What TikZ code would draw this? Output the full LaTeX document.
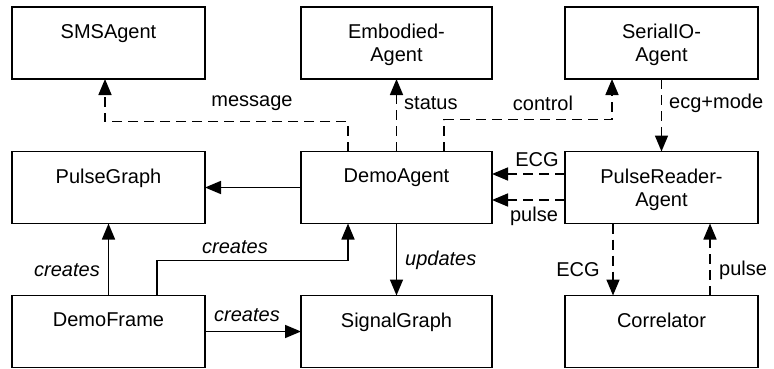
\documentclass[tikz,border=0pt]{standalone}
\usepackage{fontspec}
\setmainfont{Liberation Sans}
\usetikzlibrary{arrows.meta,calc}
\begin{document}
\begin{tikzpicture}[x=1pt,y=-1pt,
  box/.style={draw,line width=1.6pt,minimum width=193pt,minimum height=72pt,inner sep=0pt,outer sep=0pt},
  btext/.style={anchor=north,inner sep=0pt,align=center,font=\fontsize{20}{23}\selectfont},
  lbl/.style={inner sep=0pt,font=\fontsize{20}{23}\selectfont},
  ilbl/.style={inner sep=0pt,font=\fontsize{20}{23}\selectfont\itshape},
  conn/.style={line width=1.6pt,-{Triangle[length=16pt,width=13pt]}},
  dconn/.style={conn,dash pattern=on 10pt off 6pt}]
\useasboundingbox (0,0) rectangle (774,369);
% boxes
\node[box] (sms) at (108.5,43) {};
\node[box,minimum width=191pt] (emb) at (396.5,43) {};
\node[box] (ser) at (661.5,43) {};
\node[box] (pg) at (108.5,187.5) {};
\node[box,minimum width=191pt] (da) at (396.5,187.5) {};
\node[box] (pr) at (661.5,187.5) {};
\node[box] (df) at (108.5,331.5) {};
\node[box,minimum width=191pt] (sg) at (396.5,331.5) {};
\node[box] (cor) at (661.5,331.5) {};
% texts
\node[btext] (smst) at ([yshift=-17pt]sms.north) {SMSAgent};
\node[btext] (embt) at ([yshift=-17pt]emb.north) {Embodied-\\Agent};
\node[btext] (sert) at ([yshift=-17pt]ser.north) {SerialIO-\\Agent};
\node[btext] (pgt) at ([yshift=-17pt]pg.north) {PulseGraph};
\node[btext] (dat) at ([yshift=-17pt]da.north) {DemoAgent};
\node[btext] (prt) at ([yshift=-17pt]pr.north) {PulseReader-\\Agent};
\node[btext] (dft) at ([yshift=-17pt]df.north) {DemoFrame};
\node[btext] (sgt) at ([yshift=-17pt]sg.north) {SignalGraph};
\node[btext] (cort) at ([yshift=-17pt]cor.north) {Correlator};
% dashed connectors
\draw[dconn] ([xshift=-48.5pt]da.north) -- ++(0,-30) -| ([xshift=-3.5pt]sms.south);
\draw[dconn] (da.north) -- (emb.south);
\draw[dconn] ([xshift=47.5pt]da.north) -- ++(0,-32) -| ([xshift=-49.5pt]ser.south);
\draw[dconn] (ser.south) -- (pr.north);
\draw[dconn] ([yshift=13.5pt]pr.west) -- ([yshift=13.5pt]da.east);
\draw[dconn] ([yshift=-12.5pt]pr.west) -- ([yshift=-12.5pt]da.east);
\draw[dconn] ([xshift=-48.5pt]pr.south) -- ([xshift=-48.5pt]cor.north);
\draw[dconn] ([xshift=48.5pt]cor.north) -- ([xshift=48.5pt]pr.south);
% solid connectors
\draw[conn] (da.west) -- (pg.east);
\draw[conn] (df.north) -- (pg.south);
\draw[conn] ([xshift=48.5pt]df.north) -- ++(0,-35) -| ([xshift=-48.5pt]da.south);
\draw[conn] (df.east) -- (sg.west);
\draw[conn] (da.south) -- (sg.north);
% labels
\node[lbl] (l1) at (252,103) {message};
\node[lbl,anchor=west] (l2) at (404,103) {status};
\node[lbl] (l3) at (543,103) {control};
\node[lbl,anchor=west] (l4) at (669,103) {ecg+mode};
\node[lbl] (l5) at (537,160) {ECG};
\node[lbl] (l6) at (534,216) {pulse};
\node[ilbl] (l7) at (67,270) {creates};
\node[ilbl] (l8) at (235,247) {creates};
\node[ilbl] (l9) at (247,315) {creates};
\node[ilbl,anchor=west] (l10) at (405,260) {updates};
\node[lbl] (l11) at (578,270) {ECG};
\node[lbl,anchor=west] (l12) at (719,270) {pulse};
\end{tikzpicture}
\end{document}
